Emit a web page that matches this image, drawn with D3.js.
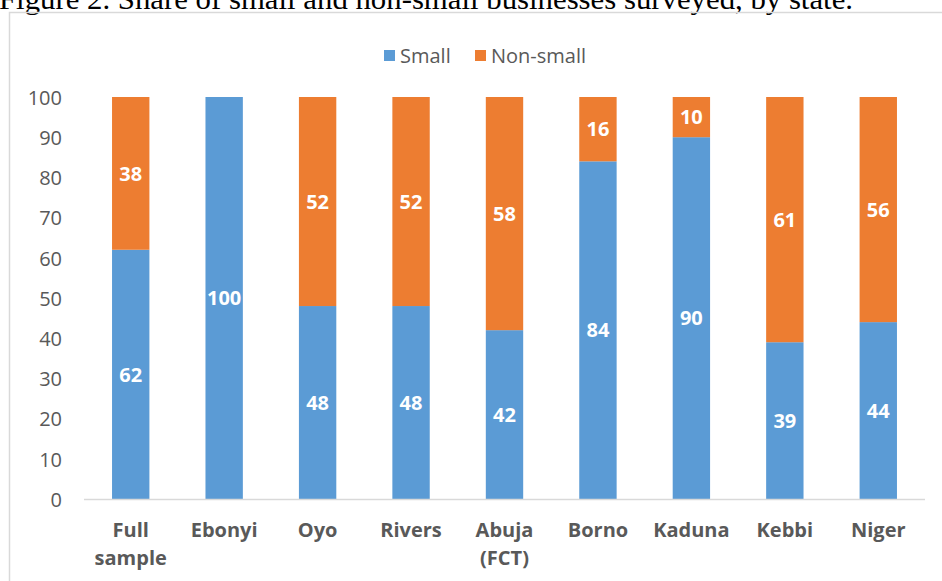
<!DOCTYPE html>
<html>
<head>
<meta charset="utf-8">
<script src="https://cdn.jsdelivr.net/npm/d3@7"></script>
<style>
  html, body { margin: 0; padding: 0; background: #fff; }
  svg { display: block; }
</style>
</head>
<body>
<svg id="chart" width="942" height="581"></svg>
<script>
const categories = [["Full", "sample"], ["Ebonyi"], ["Oyo"], ["Rivers"], ["Abuja", "(FCT)"], ["Borno"], ["Kaduna"], ["Kebbi"], ["Niger"]];
const smallValues = [62, 100, 48, 48, 42, 84, 90, 39, 44];
const nonSmallValues = [38, 0, 52, 52, 58, 16, 10, 61, 56];
const seriesNames = ["Small", "Non-small"];
const seriesColors = ["#5B9BD5", "#ED7D31"];
const yTicks = [0, 10, 20, 30, 40, 50, 60, 70, 80, 90, 100];
const titleText = "Figure 2. Share of small and non-small businesses surveyed, by state.";

const svg = d3.select("#chart");
const font = "'Open Sans', 'Noto Sans', sans-serif";
const textColor = "#595959";

// Title (partially cropped at top)
svg.append("text")
  .attr("x", -1).attr("y", 9)
  .attr("font-family", "'Liberation Serif', 'Times New Roman', serif")
  .attr("font-size", 30)
  .attr("textLength", 854)
  .attr("lengthAdjust", "spacingAndGlyphs")
  .attr("fill", "#000")
  .text(titleText);

// Chart border
svg.append("rect")
  .attr("x", 9.5).attr("y", 12.5)
  .attr("width", 960).attr("height", 620)
  .attr("fill", "none")
  .attr("stroke", "#d9d9d9")
  .attr("stroke-width", 1.5);

const plot = { left: 84, right: 925, top: 97, bottom: 499 };

const keys = categories.map(c => c.join(" "));
const x = d3.scaleBand().domain(keys).range([plot.left, plot.right]).paddingInner(0.6).paddingOuter(0.3);
const y = d3.scaleLinear().domain([0, 100]).range([plot.bottom, plot.top]);

const data = keys.map((k, i) => ({ key: k, Small: smallValues[i], "Non-small": nonSmallValues[i] }));
const stacked = d3.stack().keys(seriesNames)(data);

// Bars
const layers = svg.append("g").selectAll("g").data(stacked).join("g")
  .attr("fill", (d, i) => seriesColors[i]);
layers.selectAll("rect").data(d => d).join("rect")
  .attr("x", d => x(d.data.key))
  .attr("width", x.bandwidth())
  .attr("y", d => y(d[1]))
  .attr("height", d => y(d[0]) - y(d[1]));

// Data labels
stacked.forEach((layer, si) => {
  svg.append("g").selectAll("text").data(layer.filter(d => d[1] - d[0] > 0)).join("text")
    .attr("x", d => x(d.data.key) + x.bandwidth() / 2)
    .attr("y", d => y((d[0] + d[1]) / 2))
    .attr("dy", "0.36em")
    .attr("text-anchor", "middle")
    .attr("font-family", font)
    .attr("font-weight", "bold")
    .attr("font-size", 20)
    .attr("fill", "#fff")
    .text(d => d[1] - d[0]);
});

// Y axis (labels only)
const yAxis = svg.append("g")
  .attr("transform", `translate(${plot.left - 22},0)`)
  .call(d3.axisLeft(y).tickValues(yTicks).tickSize(0).tickPadding(0));
yAxis.select(".domain").remove();
yAxis.selectAll("text")
  .attr("font-family", font)
  .attr("font-size", 20)
  .attr("fill", textColor)
  .attr("dy", "0.36em");

// X axis
const xAxis = svg.append("g")
  .attr("transform", `translate(0,${plot.bottom})`)
  .call(d3.axisBottom(x).tickSize(0).tickFormat(""));
xAxis.select(".domain").attr("stroke", "#d9d9d9").attr("stroke-width", 1.5)
  .attr("d", `M${plot.left},0.5H${plot.right}`);
xAxis.selectAll(".tick").each(function(d, i) {
  const t = d3.select(this).select("text");
  t.text(null)
    .attr("y", 0).attr("dy", 0)
    .attr("font-family", font)
    .attr("font-weight", "bold")
    .attr("font-size", 20)
    .attr("fill", textColor);
  categories[i].forEach((line, li) => {
    t.append("tspan").attr("x", 0).attr("y", 38 + li * 28).text(line);
  });
});

// Legend
const legend = svg.append("g");
const legendItems = [{ name: seriesNames[0], color: seriesColors[0], x: 384 }, { name: seriesNames[1], color: seriesColors[1], x: 475 }];
legendItems.forEach(it => {
  legend.append("rect").attr("x", it.x).attr("y", 50).attr("width", 11).attr("height", 11).attr("fill", it.color);
  legend.append("text").attr("x", it.x + 16).attr("y", 55.5).attr("dy", "0.36em")
    .attr("font-family", font).attr("font-size", 20).attr("fill", textColor)
    .text(it.name);
});
</script>
</body>
</html>
